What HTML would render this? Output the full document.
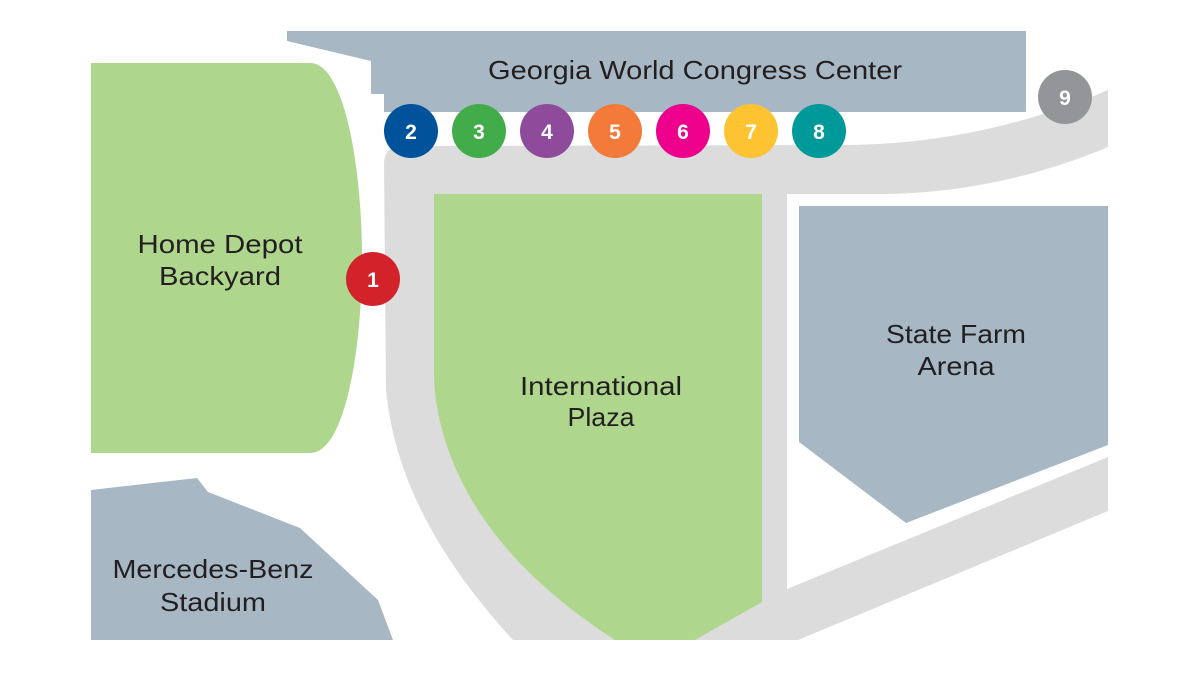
<!DOCTYPE html>
<html>
<head>
<meta charset="utf-8">
<style>
  html,body{margin:0;padding:0;background:#fff;}
  svg{display:block;}
  .lbl{font-family:"Liberation Sans",sans-serif;font-size:26px;fill:#231f20;}
  .num{font-family:"Liberation Sans",sans-serif;font-size:21px;font-weight:bold;fill:#fff;}
</style>
</head>
<body>
<svg width="1200" height="675" viewBox="0 0 1200 675" xmlns="http://www.w3.org/2000/svg">
  <rect width="1200" height="675" fill="#ffffff"/>

  <!-- Roads -->
  <path d="M384,164 Q384,146 402,146 L850,145 C930,144 1020,128 1108,90 L1108,147 C1030,180 950,194 880,194 L787,194 L787,589 L1108,457 L1108,511 L798,640 L513,640 C440,560 395,480 386,390 Z" fill="#dcdcdc"/>

  <!-- Georgia World Congress Center -->
  <polygon points="287,31 1026,31 1026,112 384,112 384,94 371,94 371,61 287,41" fill="#a7b8c4"/>

  <!-- Home Depot Backyard -->
  <path d="M91,63 L310,63 C345,63 362,170 362,258 C362,350 345,453 310,453 L91,453 Z" fill="#aed78d"/>

  <!-- International Plaza -->
  <path d="M434,194 L762,194 L762,602 L695,640 L615,640 C530,585 470,520 445,440 C436,410 434,390 434,370 Z" fill="#aed78d"/>

  <!-- State Farm Arena -->
  <polygon points="799,206 1108,206 1108,445 906,523 799,442" fill="#a7b8c4"/>

  <!-- Mercedes-Benz Stadium -->
  <polygon points="91,490 197,478 208,492 300,528 378,600 393,640 91,640" fill="#a7b8c4"/>

  <!-- Labels -->
  <text class="lbl" x="695" y="79" text-anchor="middle" textLength="414" lengthAdjust="spacingAndGlyphs">Georgia World Congress Center</text>
  <text class="lbl" x="220" y="253" text-anchor="middle" textLength="165" lengthAdjust="spacingAndGlyphs">Home Depot</text>
  <text class="lbl" x="220" y="285" text-anchor="middle" textLength="122" lengthAdjust="spacingAndGlyphs">Backyard</text>
  <text class="lbl" x="601" y="395" text-anchor="middle" textLength="162" lengthAdjust="spacingAndGlyphs">International</text>
  <text class="lbl" x="601" y="426" text-anchor="middle" textLength="67" lengthAdjust="spacingAndGlyphs">Plaza</text>
  <text class="lbl" x="956" y="343" text-anchor="middle" textLength="140" lengthAdjust="spacingAndGlyphs">State Farm</text>
  <text class="lbl" x="956" y="375" text-anchor="middle" textLength="77" lengthAdjust="spacingAndGlyphs">Arena</text>
  <text class="lbl" x="213" y="578" text-anchor="middle" textLength="201" lengthAdjust="spacingAndGlyphs">Mercedes-Benz</text>
  <text class="lbl" x="213" y="611" text-anchor="middle" textLength="106" lengthAdjust="spacingAndGlyphs">Stadium</text>

  <!-- Badges -->
  <circle cx="373" cy="279" r="27" fill="#d2232a"/>
  <text class="num" x="373" y="287" text-anchor="middle">1</text>

  <circle cx="411" cy="131" r="27" fill="#00539b"/>
  <text class="num" x="411" y="139" text-anchor="middle">2</text>

  <circle cx="479" cy="131" r="27" fill="#43ac4a"/>
  <text class="num" x="479" y="139" text-anchor="middle">3</text>

  <circle cx="547" cy="131" r="27" fill="#8e4b9b"/>
  <text class="num" x="547" y="139" text-anchor="middle">4</text>

  <circle cx="615" cy="131" r="27" fill="#f37a38"/>
  <text class="num" x="615" y="139" text-anchor="middle">5</text>

  <circle cx="683" cy="131" r="27" fill="#ec008c"/>
  <text class="num" x="683" y="139" text-anchor="middle">6</text>

  <circle cx="751" cy="131" r="27" fill="#fdc330"/>
  <text class="num" x="751" y="139" text-anchor="middle">7</text>

  <circle cx="819" cy="131" r="27" fill="#009999"/>
  <text class="num" x="819" y="139" text-anchor="middle">8</text>

  <circle cx="1065" cy="97" r="27" fill="#939598"/>
  <text class="num" x="1065" y="105" text-anchor="middle">9</text>
</svg>
</body>
</html>
